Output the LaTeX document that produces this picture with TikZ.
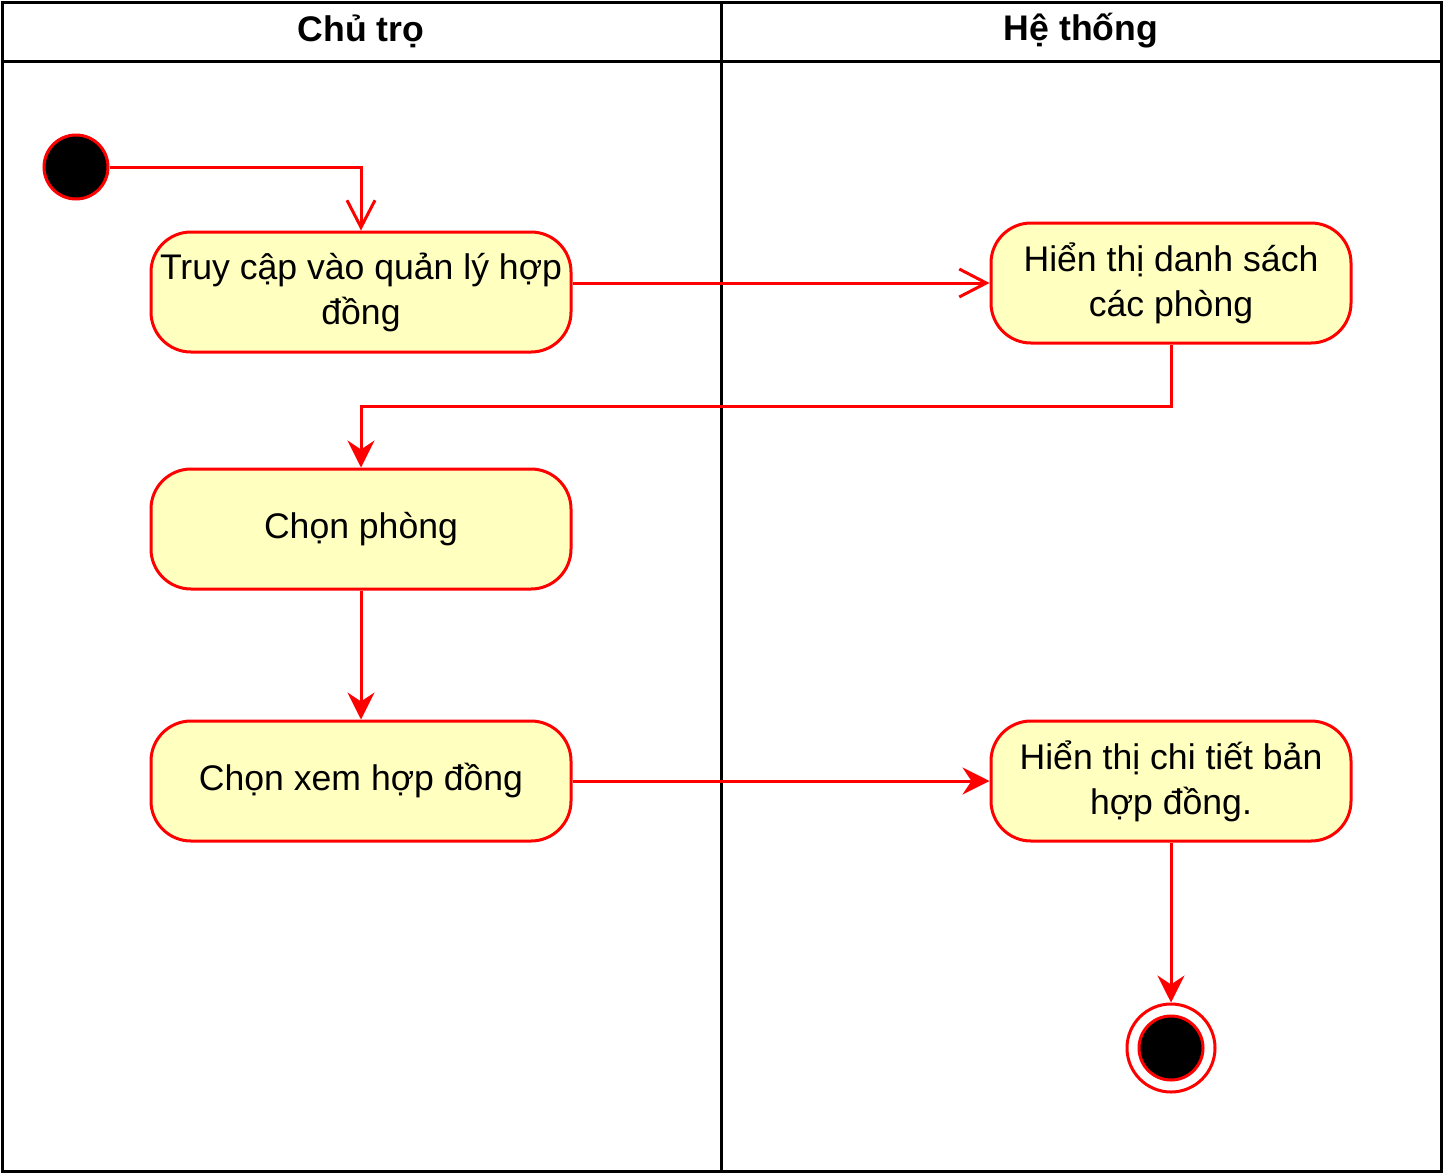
\documentclass[tikz,border=0pt]{standalone}
\usepackage{fontspec}
\setmainfont{Liberation Sans}
\usetikzlibrary{positioning}
\usetikzlibrary{arrows.meta}
\usepackage{xcolor}
\definecolor{flowred}{HTML}{FF0000}
\definecolor{actfill}{HTML}{FFFFC0}

\begin{document}
\begin{tikzpicture}[x=1pt, y=-1pt,
  act/.style={draw=flowred, line width=3pt, fill=actfill, rectangle, rounded corners=40pt,
    minimum width=420pt, minimum height=120pt, align=center, inner sep=0pt,
    font=\fontsize{35.6}{45}\selectfont},
  startdot/.style={draw=flowred, line width=3pt, fill=black, circle, minimum size=64pt, inner sep=0pt},
  stopring/.style={draw=flowred, line width=3pt, fill=white, circle, minimum size=88pt, inner sep=0pt},
  lanetitle/.style={font=\fontsize{35.6}{45}\selectfont\bfseries},
  flow/.style={draw=flowred, line width=3pt, -{Stealth[length=27pt, width=27pt, inset=9pt]}},
  openflow/.style={draw=flowred, line width=3pt, -{Straight Barb[length=27pt, width=28pt]}}]

\useasboundingbox (0,0) rectangle (1443,1173);

% swimlanes
\draw[line width=3pt] (2,2) rectangle (1441,1171);
\draw[line width=3pt] (2,61)--(1441,61);
\draw[line width=3pt] (721,2)--(721,1171);

\node[lanetitle] (laneA) at (361,31) {Chủ trọ};
\node[lanetitle] (laneB) at (1081,31) {Hệ thống};

% activities
\node[startdot] (start) at (76,167) {};
\node[act] (access) at (361,292) {Truy cập vào quản lý hợp\\đồng};
\node[act, minimum width=360pt] (showlist) at (1171,283) {Hiển thị danh sách\\các phòng};
\node[act] (pick) at (361,529) {Chọn phòng};
\node[act] (viewc) at (361,781) {Chọn xem hợp đồng};
\node[act, minimum width=360pt] (showdetail) at (1171,781) {Hiển thị chi tiết bản\\hợp đồng.};
\node[stopring] (stop) at (1171,1048) {};
\node[startdot] (stopdot) at (stop.center) {};

% flows
\coordinate (turn) at (766,406);
\draw[openflow] (start.east) -| (access.north);
\draw[openflow] (access.east |- showlist.west) -- (showlist.west);
\draw[flow] (showlist.south) |- (turn) -| (pick.north);
\draw[flow] (pick) -- (viewc);
\draw[flow] (viewc) -- (showdetail);
\draw[flow] (showdetail) -- (stop);

\end{tikzpicture}
\end{document}
